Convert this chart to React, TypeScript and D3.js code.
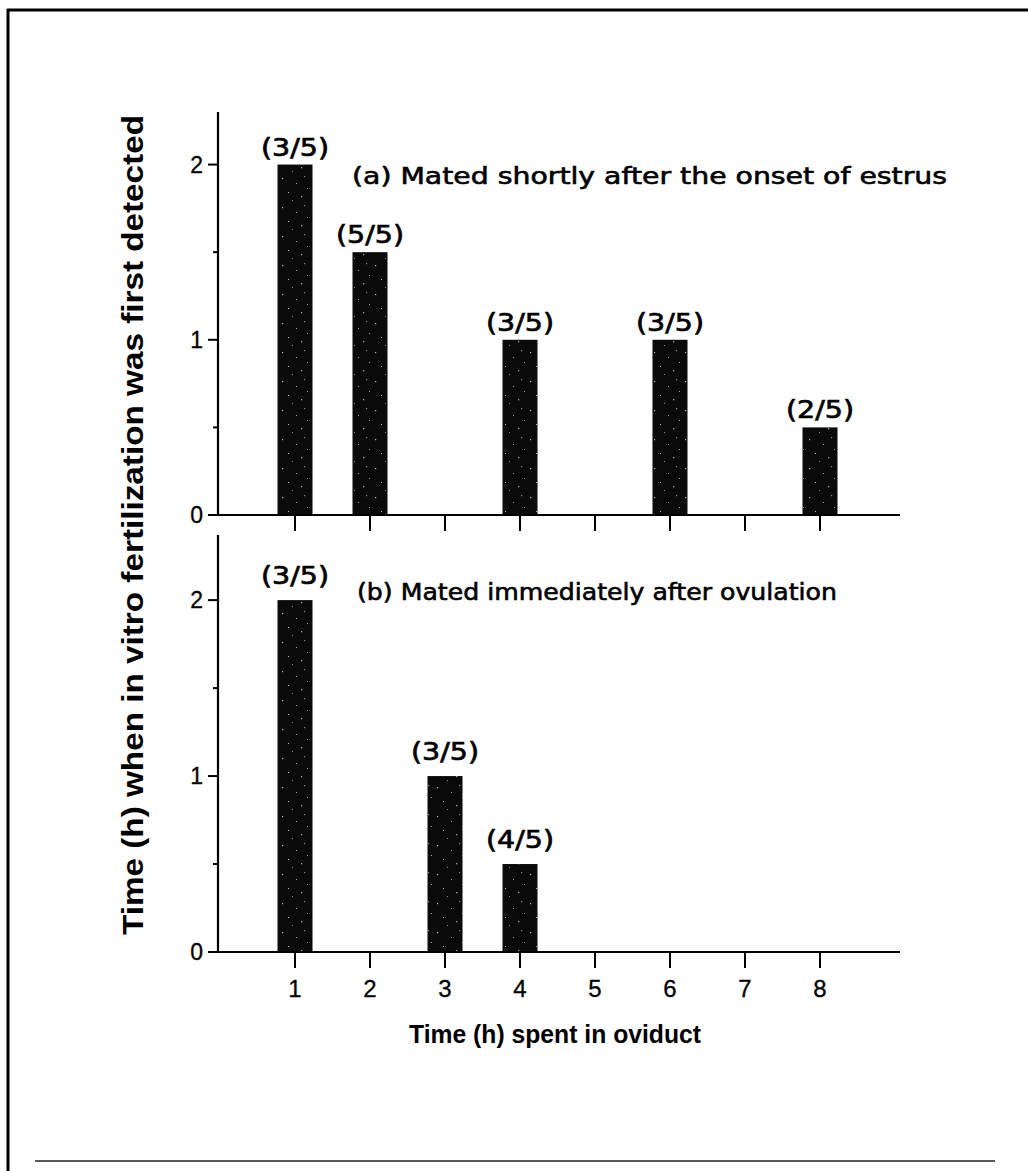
import React from 'react';
import * as d3 from 'd3';

const hours = [1, 2, 3, 4, 5, 6, 7, 8];
const panelAHours = [1, 2, 4, 6, 8];
const panelAValues = [2, 1.5, 1, 1, 0.5];
const panelALabels = ['(3/5)', '(5/5)', '(3/5)', '(3/5)', '(2/5)'];
const panelBHours = [1, 3, 4];
const panelBValues = [2, 1, 0.5];
const panelBLabels = ['(3/5)', '(3/5)', '(4/5)'];
const yTicks = [0, 1, 2];
const yMinorTicks = [0.5, 1.5];
const titleA = '(a) Mated shortly after the onset of estrus';
const titleB = '(b) Mated immediately after ovulation';
const xTitle = 'Time (h) spent in oviduct';
const yTitle = 'Time (h) when in vitro fertilization was first detected';

const W = 1028;
const H = 1171;
const AXIS_X = 218;
const X_END = 900;
const BAR_W = 35;
const ROUND = "'DejaVu Sans', Verdana, sans-serif";
const HELV = "'Liberation Sans', Arial, Helvetica, sans-serif";

const x = d3.scaleLinear().domain([0, 9]).range([220, 895]);

type PanelProps = {
  y: d3.ScaleLinear<number, number>;
  hrs: number[];
  vals: number[];
  labels: string[];
  title: string;
  titleX: number;
  titleY: number;
  titleLen: number;
  labelGap: number;
  showXLabels: boolean;
};

function Panel({ y, hrs, vals, labels, title, titleX, titleY, titleLen, labelGap, showXLabels }: PanelProps) {
  const [y0, yTop] = y.range();
  return (
    <g>
      {hrs.map((h, i) => (
        <rect key={'b' + i} x={x(h) - BAR_W / 2} y={y(vals[i])} width={BAR_W} height={y(0) - y(vals[i])} fill="url(#speckle)" />
      ))}
      {hrs.map((h, i) => (
        <text key={'l' + i} x={x(h)} y={y(vals[i]) - labelGap} textAnchor="middle" fontFamily={ROUND} fontSize={25}
          textLength={68} lengthAdjust="spacingAndGlyphs" stroke="#000" strokeWidth={0.7} fill="#000">
          {labels[i]}
        </text>
      ))}
      <line x1={AXIS_X} x2={AXIS_X} y1={yTop} y2={y0} stroke="#000" strokeWidth={2.2} />
      <line x1={AXIS_X} x2={X_END} y1={y0} y2={y0} stroke="#000" strokeWidth={2.2} />
      {yTicks.map((t) => (
        <g key={'yt' + t}>
          <line x1={AXIS_X - 10} x2={AXIS_X} y1={y(t)} y2={y(t)} stroke="#000" strokeWidth={2} />
          <text x={AXIS_X - 15} y={y(t) + 8} textAnchor="end" fontFamily={HELV} fontSize={23} stroke="#000" strokeWidth={0.3} fill="#000">{t}</text>
        </g>
      ))}
      {yMinorTicks.map((t) => (
        <line key={'ym' + t} x1={AXIS_X - 5} x2={AXIS_X} y1={y(t)} y2={y(t)} stroke="#000" strokeWidth={2} />
      ))}
      {hours.map((h) => (
        <g key={'xt' + h}>
          <line x1={x(h)} x2={x(h)} y1={y0} y2={y0 + 16} stroke="#000" strokeWidth={2} />
          {showXLabels && (
            <text x={x(h)} y={y0 + 45} textAnchor="middle" fontFamily={HELV} fontSize={24} stroke="#000" strokeWidth={0.3} fill="#000">{h}</text>
          )}
        </g>
      ))}
      <text x={titleX} y={titleY} fontFamily={ROUND} fontSize={23} textLength={titleLen} lengthAdjust="spacingAndGlyphs"
        stroke="#000" strokeWidth={0.6} fill="#000">{title}</text>
    </g>
  );
}

export default function App() {
  const yA = d3.scaleLinear().domain([0, 2.3]).range([515, 112]);
  const yB = d3.scaleLinear().domain([0, 2.37]).range([952, 535]);
  return (
    <svg width={W} height={H} viewBox={`0 0 ${W} ${H}`} style={{ position: 'absolute', left: 0, top: 0, display: 'block', background: '#fff' }}>
      <defs>
        <pattern id="speckle" width={31} height={29} patternUnits="userSpaceOnUse">
          <rect width={31} height={29} fill="#0a0a0a" />
          <rect x={3} y={4} width={1.2} height={1.2} fill="#fff" opacity={0.7} />
          <rect x={17} y={9} width={1} height={1} fill="#fff" opacity={0.6} />
          <rect x={25} y={2} width={1.2} height={1.2} fill="#fff" opacity={0.5} />
          <rect x={9} y={18} width={1} height={1} fill="#fff" opacity={0.7} />
          <rect x={22} y={22} width={1.3} height={1.3} fill="#fff" opacity={0.6} />
          <rect x={13} y={26} width={1} height={1} fill="#fff" opacity={0.5} />
          <rect x={28} y={14} width={1} height={1} fill="#fff" opacity={0.6} />
        </pattern>
      </defs>
      <rect x={0} y={0} width={W} height={H} fill="#fff" />
      <line x1={7} x2={W} y1={10} y2={10} stroke="#000" strokeWidth={3} />
      <line x1={8} x2={8} y1={9} y2={H} stroke="#000" strokeWidth={3} />
      <line x1={35} x2={995} y1={1161} y2={1161} stroke="#222" strokeWidth={1.6} />
      <Panel y={yA} hrs={panelAHours} vals={panelAValues} labels={panelALabels} title={titleA} titleX={352} titleY={184} titleLen={595} labelGap={9} showXLabels={false} />
      <Panel y={yB} hrs={panelBHours} vals={panelBValues} labels={panelBLabels} title={titleB} titleX={357} titleY={600} titleLen={480} labelGap={16} showXLabels={true} />
      <text transform={`translate(143, 525) rotate(-90)`} textAnchor="middle" fontFamily={HELV} fontWeight="bold" fontSize={29} textLength={820} lengthAdjust="spacingAndGlyphs" fill="#000">
        {yTitle}
      </text>
      <text x={555} y={1043} textAnchor="middle" fontFamily={HELV} fontWeight="bold" fontSize={26} textLength={292} lengthAdjust="spacingAndGlyphs" fill="#000">
        {xTitle}
      </text>
    </svg>
  );
}
